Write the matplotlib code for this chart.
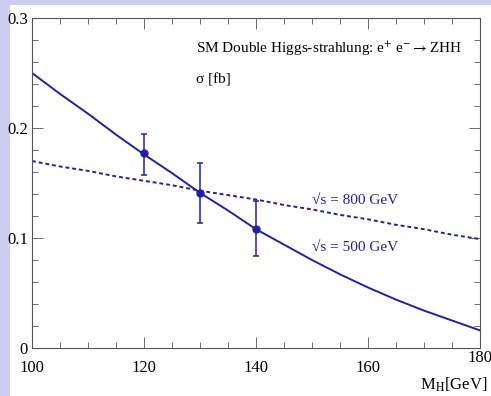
import matplotlib
matplotlib.use("Agg")
import matplotlib.pyplot as plt
import matplotlib.transforms as mtransforms
from matplotlib.patches import Rectangle
from matplotlib.ticker import MultipleLocator

plt.rcParams['font.family'] = ['Liberation Serif', 'DejaVu Serif']
plt.rcParams['mathtext.fontset'] = 'stix'

# curves
mh = [100, 105, 110, 115, 120, 125, 130, 135, 140, 145, 150, 155, 160, 165, 170, 175, 180]
sigma_500 = [0.250, 0.231, 0.213, 0.194, 0.176, 0.159, 0.141, 0.125, 0.108, 0.094,
             0.080, 0.067, 0.055, 0.044, 0.034, 0.025, 0.016]
sigma_800 = [0.170, 0.165, 0.161, 0.156, 0.152, 0.148, 0.143, 0.139, 0.135, 0.130,
             0.126, 0.121, 0.117, 0.112, 0.108, 0.103, 0.099]

# measured points with error bars
pts_mh = [120, 130, 140]
pts_sigma = [0.177, 0.141, 0.108]
pts_lo = [0.157, 0.114, 0.084]
pts_hi = [0.195, 0.168, 0.134]

blue = '#2020a8'

fig = plt.figure(figsize=(4.91, 3.96), dpi=100)
fig.patch.set_facecolor('#cdcdf0')
fig.patches.append(Rectangle((10 / 491, 0), 1, 1 - 5 / 396, transform=fig.transFigure,
                             facecolor='white', edgecolor='none', zorder=-5))
ax = fig.add_axes([32 / 491, 48 / 396, 448 / 491, 330 / 396])
ax.set_facecolor('white')

ax.plot(mh, sigma_500, color=blue, lw=1.4)
ax.plot(mh, sigma_800, color=blue, lw=1.4, ls=(0, (2, 1.5)))
yerr = [[s - l for s, l in zip(pts_sigma, pts_lo)], [h - s for s, h in zip(pts_sigma, pts_hi)]]
ax.errorbar(pts_mh, pts_sigma, yerr=yerr, fmt='o', color=blue, ms=5, lw=1.1,
            capsize=2.5, capthick=1.1)

ax.set_xlim(100, 180)
ax.set_ylim(0, 0.3)
ax.set_xticks([100, 120, 140, 160, 180])
ax.set_xticklabels(['100', '120', '140', '160', '180'])
ax.set_yticks([0, 0.1, 0.2, 0.3])
ax.set_yticklabels(['0', '0.1', '0.2', '0.3'])
ax.xaxis.set_minor_locator(MultipleLocator(5))
ax.yaxis.set_minor_locator(MultipleLocator(0.02))
ax.tick_params(which='both', direction='in', top=True, right=True, labelsize=12,
               colors='#555555', labelcolor='black')
ax.tick_params(which='major', length=8, width=0.6)
ax.tick_params(which='minor', length=4, width=0.6)
ax.tick_params(axis='y', pad=3)
ax.tick_params(axis='x', pad=9)
for s in ax.spines.values():
    s.set_color('#555555')
    s.set_linewidth(0.8)

# the last x label sits a little higher in the original
last = ax.get_xticklabels()[-1]
last.set_transform(last.get_transform() + mtransforms.ScaledTranslation(0, 0.11, fig.dpi_scale_trans))

ax.text(129.3, 0.272, r'SM Double Higgs-strahlung: e$^{+}$ e$^{-}$$\rightarrow$ZHH',
        fontsize=11, va='center')
ax.text(129.3, 0.244, 'σ [fb]', fontsize=11, va='center')
ax.text(150, 0.1345, '√s = 800 GeV', fontsize=11, color=blue, va='center')
ax.text(150, 0.091, '√s = 500 GeV', fontsize=11, color=blue, va='center')
ax.text(1.016, -0.11, r'M$_{\rm H}$[GeV]', transform=ax.transAxes, fontsize=12,
        ha='right', va='center')

fig.savefig('out.png', dpi=100, facecolor=fig.get_facecolor())
